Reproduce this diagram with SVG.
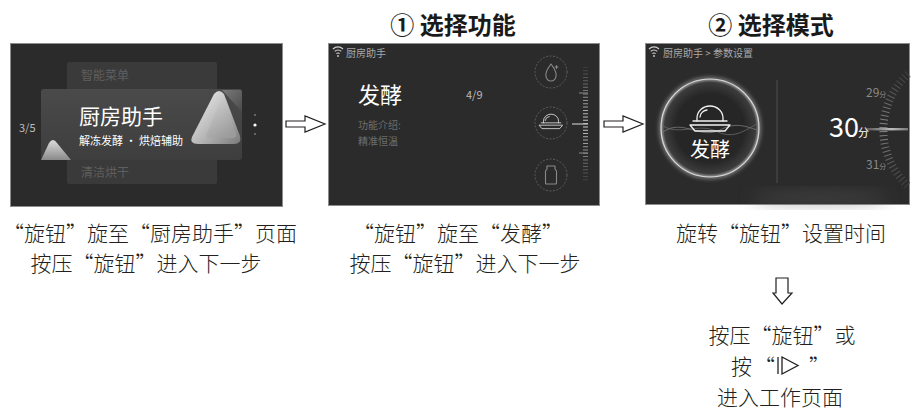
<svg xmlns="http://www.w3.org/2000/svg" width="914" height="410" viewBox="0 0 914 410">
  <style>
    .cjk { font-family: 'Noto Sans CJK SC', 'Noto Sans', sans-serif; }
    .title { font-size: 24px; font-weight: bold; fill: #1a1a1a; }
    .cap { font-size: 21px; font-weight: 300; fill: #231f20; }
    .screen { fill: #2b2b2b; stroke: #8c8c8c; stroke-width: 1; }
    .hollow { fill: #ffffff; stroke: #231f20; stroke-width: 1.2; stroke-linejoin: miter; }
    .status { font-size: 10px; fill: #a8a8a8; }
    .dim { fill: #6e6e6e; }
    .ring { fill: none; stroke: #6a6a6a; stroke-width: 0.8; stroke-dasharray: 2 1.5; }
    .icon { fill: none; stroke: #8a8a8a; stroke-width: 1.1; stroke-linecap: round; stroke-linejoin: round; }
    .iconOn { fill: none; stroke: #f2f2f2; stroke-width: 1.3; stroke-linecap: round; stroke-linejoin: round; }
    .iconOn path { vector-effect: non-scaling-stroke; }
  </style>
  <defs>
    <linearGradient id="cardGrad" x1="0" y1="0" x2="0" y2="1">
      <stop offset="0" stop-color="#4a4a4a"/>
      <stop offset="1" stop-color="#3e3e3e"/>
    </linearGradient>
    <linearGradient id="triGrad" x1="0" y1="0" x2="1" y2="1">
      <stop offset="0" stop-color="#f4f4f4"/>
      <stop offset="0.55" stop-color="#b8b8b8"/>
      <stop offset="1" stop-color="#7a7a7a"/>
    </linearGradient>
    <linearGradient id="triInner" x1="0" y1="0" x2="0.6" y2="1">
      <stop offset="0" stop-color="#d0d0d0"/>
      <stop offset="1" stop-color="#9c9c9c"/>
    </linearGradient>
    <linearGradient id="triBack" x1="0" y1="0" x2="1" y2="1">
      <stop offset="0" stop-color="#7a7a7a"/>
      <stop offset="1" stop-color="#4a4a4a"/>
    </linearGradient>
    <linearGradient id="smallTri" x1="0" y1="0" x2="0" y2="1">
      <stop offset="0" stop-color="#dcdcdc"/>
      <stop offset="1" stop-color="#8a8a8a"/>
    </linearGradient>
    <radialGradient id="dial" cx="0.5" cy="0.5" r="0.5">
      <stop offset="0.7" stop-color="#262626"/>
      <stop offset="0.93" stop-color="#3c3c3c"/>
      <stop offset="1" stop-color="#9a9a9a"/>
    </radialGradient>
    <linearGradient id="needle" x1="0" y1="0" x2="1" y2="0">
      <stop offset="0" stop-color="#555"/>
      <stop offset="0.6" stop-color="#bdbdbd"/>
      <stop offset="1" stop-color="#777"/>
    </linearGradient>
    <!-- ruler ticks fade out towards both ends -->
    <linearGradient id="rulerFade" gradientUnits="userSpaceOnUse" x1="0" y1="67" x2="0" y2="181">
      <stop offset="0" stop-color="#3c3c3c"/>
      <stop offset="0.5" stop-color="#d0d0d0"/>
      <stop offset="1" stop-color="#3c3c3c"/>
    </linearGradient>
    <linearGradient id="arcFade" gradientUnits="userSpaceOnUse" x1="0" y1="70" x2="0" y2="190">
      <stop offset="0" stop-color="#3a3a3a"/>
      <stop offset="0.5" stop-color="#8a8a8a"/>
      <stop offset="1" stop-color="#3a3a3a"/>
    </linearGradient>
    <filter id="glow" x="-30%" y="-30%" width="160%" height="160%">
      <feGaussianBlur stdDeviation="2"/>
    </filter>
    <filter id="haze" x="-50%" y="-50%" width="200%" height="200%">
      <feGaussianBlur stdDeviation="8"/>
    </filter>
    <!-- wifi glyph, origin at the dot -->
    <g id="wifi">
      <path d="M-5,-6 A7,7 0 0 1 5,-6" fill="none" stroke="#cfcfcf" stroke-width="1.1"/>
      <path d="M-3.3,-3.6 A4.6,4.6 0 0 1 3.3,-3.6" fill="none" stroke="#cfcfcf" stroke-width="1.1"/>
      <path d="M-1.6,-1.3 A2.2,2.2 0 0 1 1.6,-1.3" fill="none" stroke="#cfcfcf" stroke-width="1.1"/>
      <circle cx="0" cy="1" r="0.9" fill="#cfcfcf"/>
    </g>
    <!-- dough dome over a tray, centred on 0,0 -->
    <g id="dome">
      <path d="M-13,-2 L-13,-5 A13,12 0 0 1 13,-5 L13,-2"/>
      <path d="M-10,-6 A8,8 0 0 1 -3,-13"/>
      <path d="M-17,-2 L17,-2"/>
      <path d="M-20,2 L20,2 L15,8 L-15,8 Z"/>
    </g>
  </defs>

  <!-- headings -->
  <text class="cjk title" x="453" y="34" text-anchor="middle">① 选择功能</text>
  <text class="cjk title" x="771" y="34" text-anchor="middle">② 选择模式</text>

  <!-- screen 1: menu -->
  <g id="screen-menu">
    <rect class="screen" x="10.5" y="43.5" width="272" height="163"/>
    <rect x="67" y="62" width="150" height="30" rx="2" fill="#3a3a3a"/>
    <text class="cjk" x="81" y="80" font-size="12" fill="#5f5f5f">智能菜单</text>
    <rect x="67" y="156" width="150" height="28" rx="2" fill="#3a3a3a"/>
    <text class="cjk" x="81" y="177" font-size="12" fill="#5f5f5f">清洁烘干</text>
    <rect x="41" y="89" width="201" height="71" rx="3" fill="url(#cardGrad)"/>
    <path d="M222,90 L240,90 Q242,90 242,92 L242,112 Z" fill="url(#triBack)"/>
    <path d="M214,94 Q219,88 224,94 L240,136 Q242,144 234,144 L198,144 Q189,144 192,137 Z" fill="url(#triGrad)"/>
    <path d="M219,104 Q222,100 225,105 L236,133 Q237,138 232,138 L210,138 Q205,138 207,133 Z" fill="url(#triInner)"/>
    <path d="M49,143 Q53,137 57,143 L71,160 L41,160 Z" fill="url(#smallTri)"/>
    <text class="cjk" x="79" y="124" font-size="21" fill="#ffffff">厨房助手</text>
    <text class="cjk" x="79" y="145" font-size="11" fill="#ffffff">解冻发酵 · 烘焙辅助</text>
    <text class="cjk" x="19" y="132" font-size="11" fill="#bdbdbd">3/5</text>
    <circle cx="255" cy="115" r="1" fill="#777"/>
    <circle cx="255" cy="125" r="1.6" fill="#ffffff"/>
    <circle cx="255" cy="134" r="1" fill="#777"/>
  </g>

  <!-- screen 2: function selection -->
  <g id="screen-function">
    <rect class="screen" x="328.5" y="43.5" width="271" height="162"/>
    <use href="#wifi" x="338" y="55"/>
    <text class="cjk status" x="346" y="57">厨房助手</text>
    <text class="cjk" x="358" y="103" font-size="22" fill="#ffffff">发酵</text>
    <text class="cjk" x="466" y="99" font-size="11" fill="#bdbdbd">4/9</text>
    <text class="cjk dim" x="358" y="129" font-size="10">功能介绍:</text>
    <text class="cjk dim" x="358" y="145" font-size="10">精准恒温</text>
    <!-- selector wheel -->
    <circle class="ring" cx="551" cy="72" r="16"/>
    <circle class="ring" cx="551" cy="123" r="16" stroke="#9a9a9a"/>
    <circle class="ring" cx="551" cy="175" r="16"/>
    <path class="icon" d="M551,64 Q545,72 546,76 A5,5 0 0 0 556,76 Q557,72 551,64 Z M555,67 L558,67 M556.5,65.5 L556.5,68.5"/>
    <g class="iconOn" transform="translate(551,124) scale(0.58)"><use href="#dome"/></g>
    <path class="icon" d="M547,166 L555,166 L555,169 L556.5,171 L556.5,183 Q556.5,184 555.5,184 L546.5,184 Q545.5,184 545.5,183 L545.5,171 L547,169 Z"/>
    <!-- scale ruler -->
    <line x1="585.5" y1="67" x2="585.5" y2="181" stroke="url(#rulerFade)" stroke-width="5" stroke-dasharray="1 2.3"/>
    <line x1="579" y1="93" x2="588" y2="93" stroke="#8a8a8a" stroke-width="1"/>
    <line x1="579" y1="153" x2="588" y2="153" stroke="#8a8a8a" stroke-width="1"/>
    <line x1="572" y1="124" x2="588" y2="124" stroke="#b5b5b5" stroke-width="1.3"/>
  </g>

  <!-- screen 3: time setting -->
  <g id="screen-mode">
    <rect class="screen" x="645.5" y="43.5" width="264" height="161" fill="#262626"/>
    <ellipse cx="820" cy="198" rx="70" ry="6" fill="#5a5a5a" opacity="0.5" filter="url(#haze)"/>
    <use href="#wifi" x="654" y="55"/>
    <text class="cjk status" x="663" y="57">厨房助手 &gt; 参数设置</text>
    <circle cx="710" cy="128" r="49" fill="none" stroke="#e6e6e6" stroke-width="3" opacity="0.6" filter="url(#glow)"/>
    <circle cx="710" cy="128" r="49" fill="url(#dial)" stroke="#d9d9d9" stroke-width="1.2"/>
    <path d="M663,132 C683,118 700,140 720,130 C735,122 745,126 757,130" fill="none" stroke="#7a7a7a" stroke-width="0.8"/>
    <path d="M663,126 C680,136 700,122 718,132 C735,140 748,128 757,124" fill="none" stroke="#6a6a6a" stroke-width="0.8"/>
    <g class="iconOn" transform="translate(710,123)" stroke-width="1.4"><use href="#dome"/></g>
    <text class="cjk" x="710" y="157" font-size="20" fill="#ffffff" text-anchor="middle">发酵</text>
    <line x1="777" y1="80" x2="777" y2="183" stroke="#4e4e4e" stroke-width="1"/>
    <!-- time dial -->
    <path d="M908,74 A76,76 0 0 0 908,186" fill="none" stroke="url(#arcFade)" stroke-width="8" stroke-dasharray="1 3"/>
    <rect x="866" y="128" width="42" height="2.4" fill="url(#needle)"/>
    <text class="cjk" x="829" y="137" font-size="27" fill="#ffffff">30</text>
    <text class="cjk" x="858" y="137" font-size="11" fill="#ffffff">分</text>
    <text class="cjk" x="866" y="97" font-size="12" fill="#8a8a8a">29<tspan font-size="7">分</tspan></text>
    <text class="cjk" x="866" y="169" font-size="12" fill="#8a8a8a">31<tspan font-size="7">分</tspan></text>
  </g>

  <!-- connectors -->
  <g id="connectors">
    <path class="hollow" d="M286,121 L305,121 L305,116 L325,124 L305,132 L305,127 L286,127 Z"/>
    <path class="hollow" d="M604,121 L623,121 L623,116 L643,124 L623,132 L623,127 L604,127 Z"/>
    <path class="hollow" d="M776,278 L788,278 L788,293 L792,293 L782,304 L773,293 L776,293 Z"/>
  </g>

  <!-- captions -->
  <g id="captions" class="cjk cap" text-anchor="middle">
    <text x="150" y="241">“旋钮”旋至“厨房助手”页面</text>
    <text x="146" y="271">按压“旋钮”进入下一步</text>
    <text x="458" y="241">“旋钮”旋至“发酵”</text>
    <text x="465" y="271">按压“旋钮”进入下一步</text>
    <text x="781" y="241">旋转“旋钮”设置时间</text>
    <text x="782" y="343">按压“旋钮”或</text>
    <text x="780" y="405">进入工作页面</text>
  </g>
  <text class="cjk cap" x="731" y="374">按</text>
  <text class="cjk cap" x="754" y="374">“</text>
  <text class="cjk cap" x="809" y="374">”</text>
  <!-- start key symbol -->
  <g id="start-key" fill="none" stroke="#231f20" stroke-width="1.3">
    <line x1="778" y1="357" x2="778" y2="374"/>
    <path d="M782,357 L798,365.5 L782,374 Z"/>
  </g>
</svg>
